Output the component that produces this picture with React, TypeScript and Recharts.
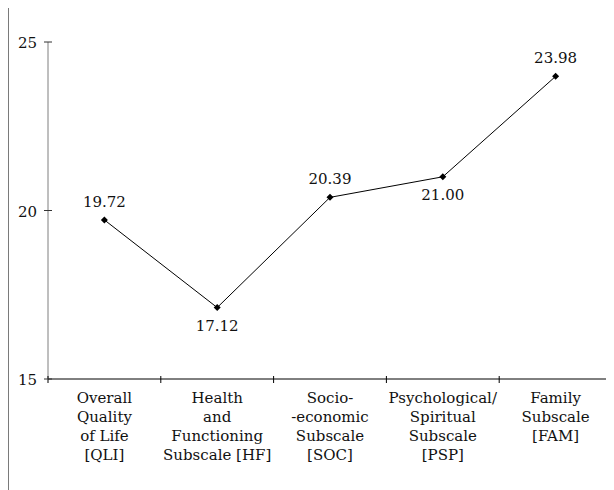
import React from 'react';
import { LineChart, Line, XAxis, YAxis } from 'recharts';

const categories = [
  'Overall Quality of Life [QLI]',
  'Health and Functioning Subscale [HF]',
  'Socio-economic Subscale [SOC]',
  'Psychological/Spiritual Subscale [PSP]',
  'Family Subscale [FAM]',
];
// how each category label is broken into lines under the axis
const categoryLines = [
  ['Overall', 'Quality', 'of Life', '[QLI]'],
  ['Health', 'and', 'Functioning', 'Subscale [HF]'],
  ['Socio-', '-economic', 'Subscale', '[SOC]'],
  ['Psychological/', 'Spiritual', 'Subscale', '[PSP]'],
  ['Family', 'Subscale', '[FAM]'],
];
const scores = [19.72, 17.12, 20.39, 21.0, 23.98];
const labelBelow = [false, true, false, true, false];
const yTicks = [15, 20, 25];

const data = categories.map((name, i) => ({ name, score: scores[i] }));

const FONT = 'DejaVu Serif';
const FS = 15;
const W = 606;
const H = 483;
const margin = { top: 34, right: 3, left: 0, bottom: 0 };
const Y_AXIS_W = 39;
const bandHalf = (W - margin.left - margin.right - Y_AXIS_W) / categories.length / 2;

const XTick = (props: any) => {
  const { x, y, index } = props;
  const lines = categoryLines[index] || [];
  const last = index === categories.length - 1;
  return (
    <g>
      <line x1={x - bandHalf} x2={x - bandHalf} y1={y - 3} y2={y + 4} stroke='#000' />
      {last && <line x1={x + bandHalf} x2={x + bandHalf} y1={y - 3} y2={y + 4} stroke='#000' />}
      <text x={x} y={y + 24} textAnchor='middle' fontFamily={FONT} fontSize={FS} fill='#111'>
        {lines.map((l, i) => (
          <tspan key={i} x={x} dy={i === 0 ? 0 : 19}>
            {l}
          </tspan>
        ))}
      </text>
    </g>
  );
};

const YTick = (props: any) => {
  const { x, y, payload } = props;
  return (
    <g>
      <line x1={x - 4} x2={x + 4} y1={y} y2={y} stroke='#333' />
      <text x={x - 11} y={y + 6} textAnchor='end' fontFamily={FONT} fontSize={FS} fill='#111'>
        {payload.value}
      </text>
    </g>
  );
};

const Diamond = (props: any) => {
  const { cx, cy } = props;
  if (cx == null || cy == null) return null;
  const r = 3.5;
  return (
    <polygon
      points={`${cx},${cy - r} ${cx + r},${cy} ${cx},${cy + r} ${cx - r},${cy}`}
      fill='#000'
    />
  );
};

const ValueLabel = (props: any) => {
  const { x, y, value, index } = props;
  const below = labelBelow[index];
  return (
    <text
      x={x}
      y={below ? y + 23 : y - 13}
      textAnchor='middle'
      fontFamily={FONT}
      fontSize={FS}
      fill='#111'
    >
      {Number(value).toFixed(2)}
    </text>
  );
};

const App = () => {
  return (
    <div
      style={{
        width: W,
        height: H,
        marginTop: -1,
        borderTop: '1px solid #7a7a7a',
        borderLeft: '1px solid #7a7a7a',
        background: '#fff',
      }}
    >
      <LineChart width={W} height={H} data={data} margin={margin}>
        <XAxis
          dataKey='name'
          scale='band'
          axisLine={{ stroke: '#000' }}
          tickLine={false}
          tickSize={0}
          tickMargin={0}
          interval={0}
          height={112}
          tick={<XTick />}
        />
        <YAxis
          domain={[15, 25]}
          ticks={yTicks}
          width={Y_AXIS_W}
          axisLine={{ stroke: '#7f7f7f' }}
          tickLine={false}
          tickSize={0}
          tickMargin={0}
          tick={<YTick />}
        />
        <Line
          type='linear'
          dataKey='score'
          stroke='#000'
          strokeWidth={1}
          dot={<Diamond />}
          activeDot={false}
          label={<ValueLabel />}
          isAnimationActive={false}
        />
      </LineChart>
    </div>
  );
};

export default App;
